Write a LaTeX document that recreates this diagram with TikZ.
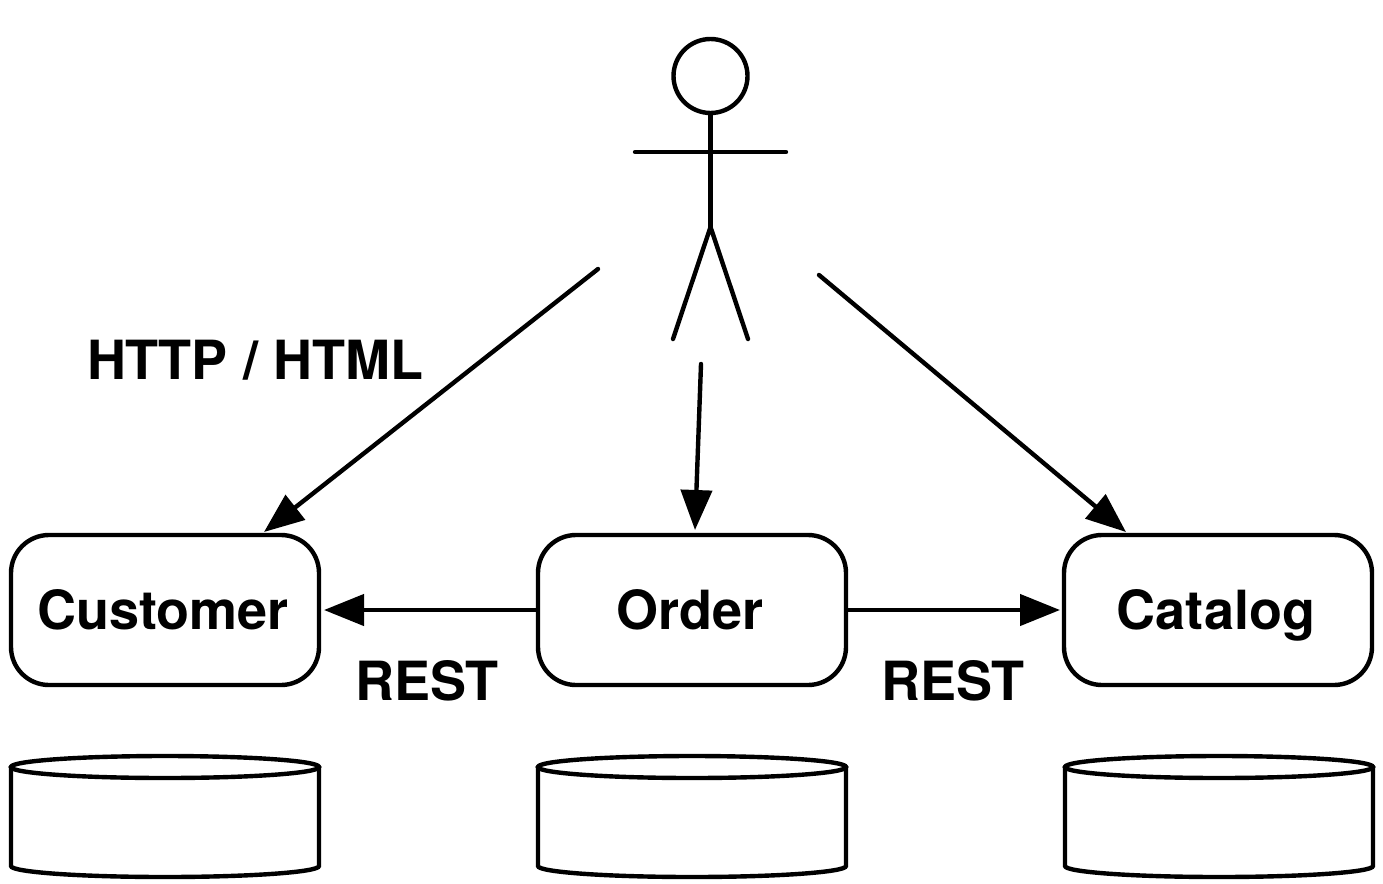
\documentclass[tikz,border=0pt]{standalone}
\usepackage{fontspec}
\setmainfont{TeX Gyre Heros}
\usetikzlibrary{arrows.meta,positioning}
\tikzset{
	service/.style={draw,line width=4.4pt,rounded corners=38pt,minimum width=308pt,minimum height=150pt,inner sep=0pt,text height=38pt,text depth=0pt,execute at begin node=\hspace*{-4pt}},
	tag/.style={font=\bfseries\fontsize{54}{60}\selectfont,inner sep=0pt},
	flow/.style={line width=4.4pt,line cap=round,-{Triangle[length=40pt,width=31pt]}},
	stick/.style={line width=4.4pt,line cap=round}
}
\begin{document}
\begin{tikzpicture}[x=1pt,y=-1pt,line width=4.4pt]
\useasboundingbox (0,0) rectangle (1383,883);

% Services
\node[service,tag] (customer) at (165,610) {Customer};
\node[service,tag] (order) at (692,610) {Order};
\node[service,tag] (catalog) at (1218,610) {Catalog};

% Databases
\newcommand{\database}[1]{% left edge (#1)
	\draw[stick,fill=white] (#1,767) -- (#1,866) arc[x radius=154,y radius=11,start angle=180,end angle=0] -- (#1+308,767);
	\draw[stick,fill=white] (#1+154,767) ellipse[x radius=154,y radius=11];
}
\database{11}
\database{538}
\database{1065}

% Actor
\node[circle,draw,minimum size=74pt,inner sep=0pt] (head) at (710.5,76) {};
\coordinate (hip) at (710.5,227);
\coordinate (armL) at (635,152);
\coordinate (armR) at (786,152);
\coordinate (footL) at (673,339);
\coordinate (footR) at (748,339);
\draw[stick] (head) -- (hip);
\draw[stick] (armL) -- (armR);
\draw[stick] (footL) -- (hip) -- (footR);

% Arrows
\coordinate (fromL) at (598,269);
\coordinate (fromM) at (701,364);
\coordinate (fromR) at (819,275);
\coordinate (toL) at (264,532);
\coordinate (toM) at (695,530);
\coordinate (toR) at (1126,532);
\coordinate (toCustomer) at (324,610);
\coordinate (toCatalog) at (1060,610);
\draw[flow] (fromL) -- (toL);
\draw[flow] (fromM) -- (toM);
\draw[flow] (fromR) -- (toR);
\draw[flow] (order.west) -- (toCustomer);
\draw[flow] (order.east) -- (toCatalog);

% Labels
\node[tag] (http) at (255,360) {HTTP / HTML};
\node[tag] (restL) at (427,681) {REST};
\node[tag] (restR) at (953,681) {REST};
\end{tikzpicture}
\end{document}
